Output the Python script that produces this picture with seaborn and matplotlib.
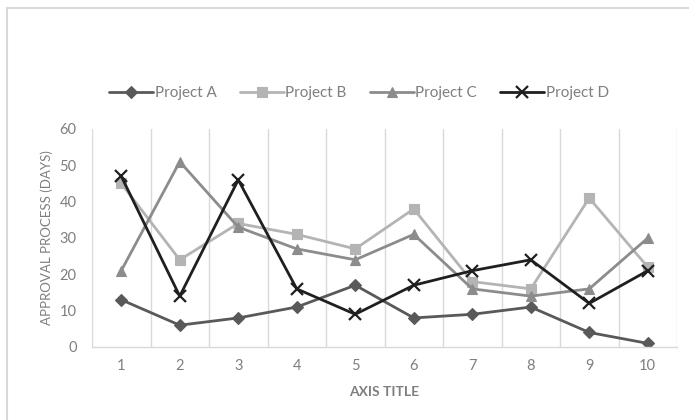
import numpy as np
import pandas as pd
import matplotlib
matplotlib.use("Agg")
import matplotlib.pyplot as plt
from matplotlib.patches import Rectangle
import seaborn as sns

days = [1, 2, 3, 4, 5, 6, 7, 8, 9, 10]
project_a = [13, 6, 8, 11, 17, 8, 9, 11, 4, 1]
project_b = [45, 24, 34, 31, 27, 38, 18, 16, 41, 22]
project_c = [21, 51, 33, 27, 24, 31, 16, 14, 16, 30]
project_d = [47, 14, 46, 16, 9, 17, 21, 24, 12, 21]
series_names = ["Project A", "Project B", "Project C", "Project D"]
y_ticks = [0, 10, 20, 30, 40, 50, 60]

df = pd.DataFrame({"x": days, "Project A": project_a, "Project B": project_b,
                   "Project C": project_c, "Project D": project_d})
long = df.melt(id_vars="x", var_name="series", value_name="value")

sns.set_theme(style="white")
plt.rcParams["font.family"] = ["Lato", "DejaVu Sans"]
text_color = "#7f7f7f"

fig = plt.figure(figsize=(6.89, 4.20), dpi=100)
ax = fig.add_axes([92 / 689, 1 - 347 / 420, (677 - 92) / 689, (347 - 129) / 420])

palette = {"Project A": "#595959", "Project B": "#b4b4b4",
           "Project C": "#8c8c8c", "Project D": "#1f1f1f"}
markers = {"Project A": "D", "Project B": "s", "Project C": "^", "Project D": "X"}

sns.lineplot(data=long, x="x", y="value", hue="series", style="series",
             hue_order=series_names, style_order=series_names,
             palette=palette, markers=markers, dashes=False,
             linewidth=2.0, markersize=7, ax=ax)

sizes = {"D": 6.5, "s": 7.5, "^": 7, "x": 9}

def restyle(line):
    m = line.get_marker()
    if m == "X":
        line.set_marker("x")
        m = "x"
    c = line.get_color()
    line.set_markeredgecolor(c)
    line.set_markerfacecolor(c)
    if m in sizes:
        line.set_markersize(sizes[m])
    line.set_markeredgewidth(1.6 if m == "x" else 0.8)

for line in ax.get_lines():
    restyle(line)

ax.set_xlim(0.5, 10.5)
ax.set_ylim(0, 60)
ax.set_xticks(days)
ax.set_xticklabels([str(d) for d in days])
ax.set_yticks(y_ticks)
ax.set_xticks(np.arange(0.5, 11, 1), minor=True)
ax.grid(which="minor", axis="x", color="#d9d9d9", linewidth=1)
ax.grid(which="major", axis="both", visible=False)
ax.tick_params(which="both", length=0)
ax.tick_params(axis="x", pad=9, labelsize=10.5, labelcolor=text_color)
ax.tick_params(axis="y", pad=11, labelsize=10.5, labelcolor=text_color)
for s in ["top", "right", "left"]:
    ax.spines[s].set_visible(False)
ax.spines["bottom"].set_color("#d9d9d9")
ax.spines["bottom"].set_linewidth(1)

ax.set_xlabel("AXIS TITLE", fontsize=10, fontweight="bold", color=text_color, labelpad=9)
ax.set_ylabel("APPROVAL PROCESS (DAYS)", fontsize=9.5, color=text_color, labelpad=5)

handles, labels = ax.get_legend_handles_labels()
ax.legend_.remove()
for h in handles:
    restyle(h)
fig.legend(handles, labels, loc="center", bbox_to_anchor=(359 / 689, 1 - 93 / 420),
           ncol=4, frameon=False, fontsize=11, handlelength=2.9, handletextpad=0.1,
           columnspacing=1.5, labelcolor=text_color)

fig.patches.append(Rectangle((7 / 689, -0.05), 1.0, 1 - 8 / 420 + 0.05,
                             transform=fig.transFigure, fill=False,
                             edgecolor="#d9d9d9", linewidth=1.5))

fig.savefig("out.png", dpi=100)
